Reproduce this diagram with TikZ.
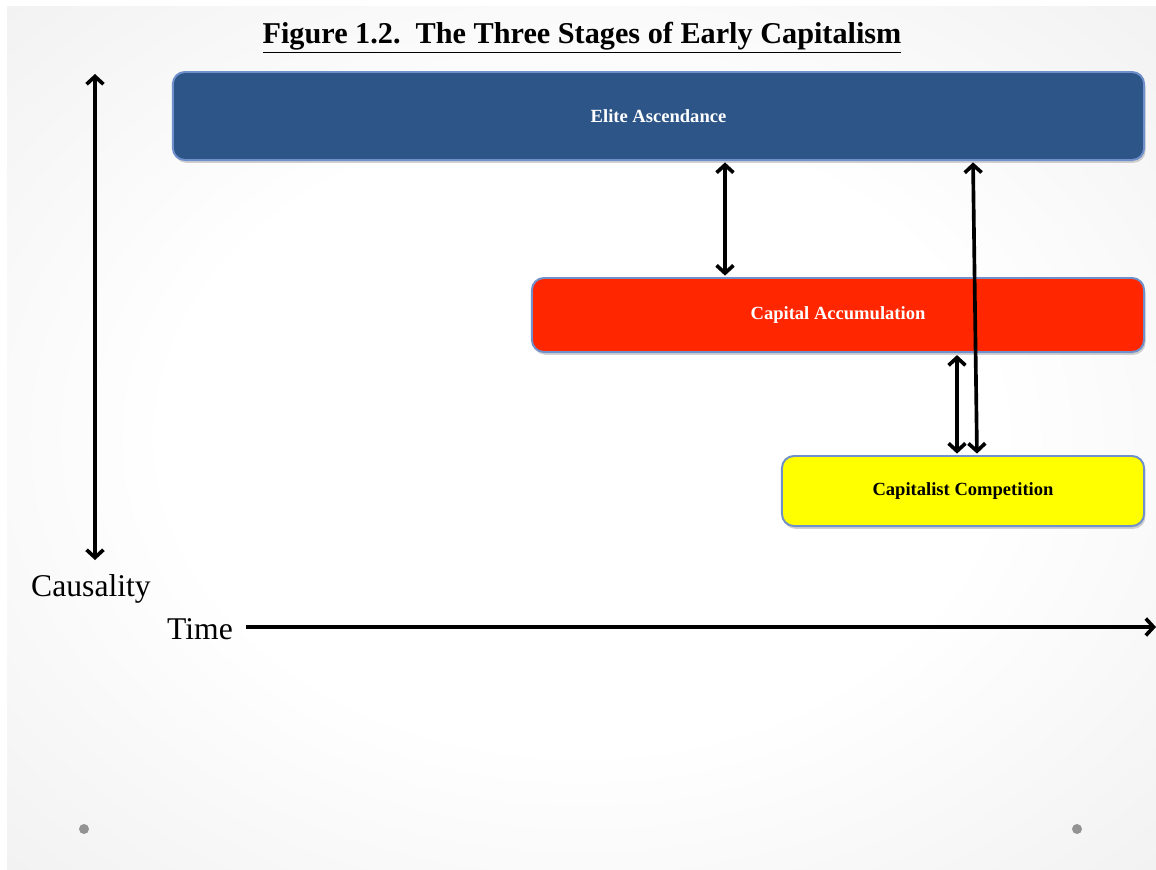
\documentclass[tikz,border=0pt]{standalone}
\usepackage{fontspec}
\setmainfont{Liberation Serif}
\usetikzlibrary{shadows}
\usetikzlibrary{arrows.meta}

\definecolor{eliteblue}{HTML}{2D5587}
\definecolor{accumred}{HTML}{FF2600}
\definecolor{competyellow}{HTML}{FFFF00}
\definecolor{boxedge}{HTML}{7090CC}
\definecolor{dotgray}{HTML}{939393}

\pgfdeclareradialshading{slidebg}{\pgfpoint{0bp}{0bp}}{color(0bp)=(white); color(18bp)=(white); color(35bp)=(black!5); color(50bp)=(black!15); color(72bp)=(black!18)}

\tikzset{
  stagebox/.style={draw=boxedge, line width=1.4pt, rounded corners=0.3cm,
    font=\fontsize{13.2}{15}\selectfont\bfseries,
    drop shadow={shadow xshift=1pt, shadow yshift=-2pt, opacity=0.35}},
  linkarrow/.style={{Straight Barb[length=5.5pt,width=12pt]}-{Straight Barb[length=5.5pt,width=12pt]}, line width=2.6pt, black},
}

\begin{document}
\begin{tikzpicture}[x=0.025cm, y=-0.025cm]
    \useasboundingbox (0,0) rectangle (1156,869);
    \fill[white] (0,0) rectangle (1156,869);
    \shade[shading=slidebg] (7,6) rectangle (1156,869);

    % title
    \node (title) at (582,38) {\fontsize{21.5}{25}\selectfont\bfseries\underline{Figure 1.2.~\ The Three Stages of Early Capitalism}};

    % the three stages
    \node[stagebox, fill=eliteblue, text=white, minimum width=24.275cm, minimum height=2.2cm] (elite) at (658.5,116) {Elite Ascendance};
    \node[stagebox, fill=accumred, text=white, minimum width=15.3cm, minimum height=1.85cm] (accum) at (838,315) {Capital Accumulation};
    \node[stagebox, fill=competyellow, text=black, minimum width=9.05cm, minimum height=1.75cm] (compet) at (963,491) {Capitalist Competition};

    \coordinate (a1) at (725,0);
    \coordinate (a2top) at (973,0);
    \coordinate (a2bot) at (977,0);
    \coordinate (a3) at (957,0);
    \draw[linkarrow, shorten <=1pt, shorten >=1pt] (elite.south -| a1) -- (accum.north -| a1);
    \draw[linkarrow, shorten <=1pt, shorten >=1pt] (elite.south -| a2top) -- (compet.north -| a2bot);
    \draw[linkarrow, shorten <=1.5pt, shorten >=1pt] (accum.south -| a3) -- (compet.north -| a3);

    % axes
    \coordinate (ctop) at (95,74);
    \coordinate (cbot) at (95,560);
    \draw[linkarrow] (ctop) -- (cbot);
    \node (causality) at (91,589) {\fontsize{22.5}{26}\selectfont Causality};

    \node (time) at (200,629) {\fontsize{22.5}{26}\selectfont Time};
    \coordinate (tend) at (1156,627);
    \draw[-{Straight Barb[length=5.5pt,width=12pt]}, line width=2.6pt, shorten <=6pt] (time.east |- tend) -- (tend);

    % slide dots
    \fill[dotgray] (84,829) circle (5);
    \fill[dotgray] (1077,829) circle (5);
\end{tikzpicture}
\end{document}
